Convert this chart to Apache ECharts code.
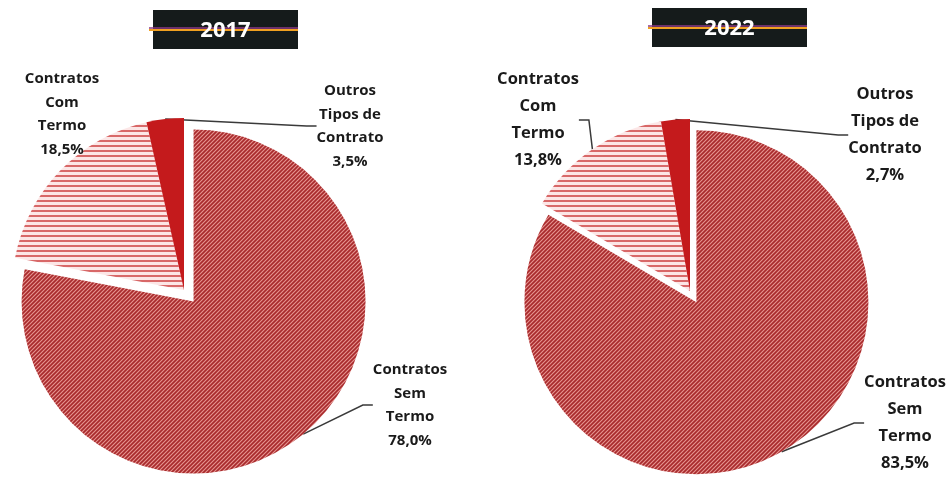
<!DOCTYPE html>
<html>
<head>
<meta charset="utf-8">
<script src="https://cdn.jsdelivr.net/npm/echarts@6/dist/echarts.min.js"></script>
<style>
  html, body { margin: 0; padding: 0; background: #fff; }
  #charts { width: 951px; height: 477px; }
</style>
</head>
<body>
<div id="charts"></div>
<script>
// data
const categories = ["Contratos Sem Termo", "Contratos Com Termo", "Outros Tipos de Contrato"];
const labelNames = ["Contratos\nSem\nTermo", "Contratos\nCom\nTermo", "Outros\nTipos de\nContrato"];
const years = ["2017", "2022"];
const values2017 = [78.0, 18.5, 3.5];
const values2022 = [83.5, 13.8, 2.7];

// fills
function makePattern(w, h, draw) {
  let c = document.createElement("canvas");
  c.width = w;
  c.height = h;
  let ctx = c.getContext("2d");
  draw(ctx);
  return { image: c, repeat: "repeat" };
}
let diagFill = makePattern(4, 4, function (ctx) {
  ctx.fillStyle = "#e69490";
  ctx.fillRect(0, 0, 4, 4);
  ctx.strokeStyle = "#a82a2c";
  ctx.lineWidth = 1.7;
  ctx.beginPath();
  ctx.moveTo(-1, 5); ctx.lineTo(5, -1);
  ctx.moveTo(-1, 1); ctx.lineTo(1, -1);
  ctx.moveTo(3, 5); ctx.lineTo(5, 3);
  ctx.stroke();
});
let stripeFill = makePattern(4, 5, function (ctx) {
  ctx.fillStyle = "#fce6e6";
  ctx.fillRect(0, 0, 4, 5);
  ctx.fillStyle = "#d86868";
  ctx.fillRect(0, 0, 4, 2);
});
let fills = [diagFill, stripeFill, "#c41a1c"];

// label spots per pie (center of text block)
let labelSpots = [
  [[410, 405], [62, 114], [350, 126]],
  [[905, 423], [538, 120], [885, 135]],
];
let fontSizes = [15, 16.5];
let lineHeights = [23.5, 27];
let explode = [15, 13];

let chartDom = document.getElementById("charts");
let myChart = echarts.init(chartDom);

// one pie per year: the big slice is drawn by a second series pulled out along its bisector
function pieSeries(idx, values, center, big) {
  let c = center;
  if (big) {
    let mid = (90 - (360 * values[0]) / 100 / 2) * Math.PI / 180;
    c = [center[0] + explode[idx] * Math.cos(mid), center[1] - explode[idx] * Math.sin(mid)];
  }
  return {
    type: "pie",
    center: c,
    radius: 172,
    startAngle: 90,
    clockwise: true,
    avoidLabelOverlap: false,
    animation: false,
    silent: true,
    label: {
      show: true,
      position: "outside",
      color: "#1a1a1a",
      fontFamily: "Open Sans",
      fontWeight: "bold",
      fontSize: fontSizes[idx],
      lineHeight: lineHeights[idx],
      align: "center",
      formatter: function (p) {
        return labelNames[p.dataIndex] + "\n" + p.value.toFixed(1).replace(".", ",") + "%";
      },
    },
    labelLine: {
      show: true,
      length: 10,
      length2: 10,
      lineStyle: { color: "#3a3a3a", width: 1.5 },
    },
    labelLayout: function (p) {
      let s = labelSpots[idx][p.dataIndex];
      return { x: s[0], y: s[1], align: "center", verticalAlign: "middle" };
    },
    data: values.map(function (v, i) {
      let shown = big ? i === 0 : i !== 0;
      let item = {
        name: categories[i],
        value: v,
        itemStyle: { color: shown ? fills[i] : "transparent", borderWidth: 0 },
      };
      if (!shown) {
        item.label = { show: false };
        item.labelLine = { show: false };
      }
      if (idx === 0 && i === 1) {
        item.labelLine = { show: false };
      }
      return item;
    }),
  };
}

function titleBox(x, y, w, h, text) {
  return [
    { type: "rect", shape: { x: x, y: y, width: w, height: h }, style: { fill: "#151b1b" }, z: 10 },
    { type: "line", shape: { x1: x - 4, y1: y + h / 2 - 1.5, x2: x + w, y2: y + h / 2 - 1.5 }, style: { stroke: "#8a3a86", lineWidth: 1.5 }, z: 11 },
    { type: "line", shape: { x1: x - 4, y1: y + h / 2 + 0.5, x2: x + w, y2: y + h / 2 + 0.5 }, style: { stroke: "#f0a020", lineWidth: 1.8 }, z: 11 },
    {
      type: "text",
      x: x + w / 2,
      y: y + h / 2 + 1,
      style: {
        text: text,
        fill: "#ffffff",
        font: "bold 22px 'Open Sans'",
        align: "center",
        verticalAlign: "middle",
      },
      z: 12,
    },
  ];
}

let option = {
  backgroundColor: "#ffffff",
  graphic: titleBox(153, 10, 145, 39, years[0]).concat(titleBox(652, 8, 155, 39, years[1])),
  series: [
    pieSeries(0, values2017, [184, 290], false),
    pieSeries(0, values2017, [184, 290], true),
    pieSeries(1, values2022, [690, 291], false),
    pieSeries(1, values2022, [690, 291], true),
  ],
};

option && myChart.setOption(option);
</script>
</body>
</html>
